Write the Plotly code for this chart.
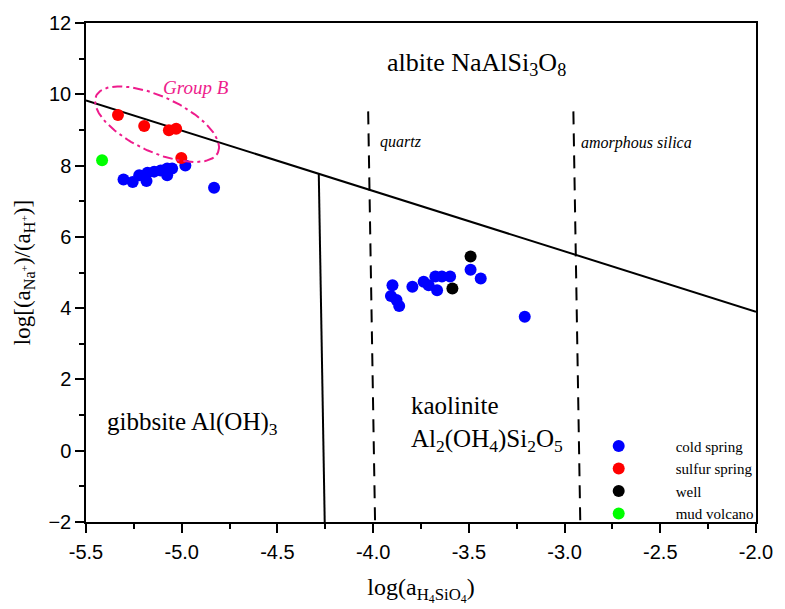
import numpy as np
import plotly.graph_objects as go

# ---- data ----
cold_x = [-5.304, -5.256, -5.222, -5.184, -5.179, -5.144, -5.110, -5.076, -5.076, -5.050, -4.981, -4.831,
          -3.899, -3.907, -3.878, -3.864, -3.795, -3.736, -3.710, -3.675, -3.666, -3.641, -3.598, -3.491, -3.438, -3.208]
cold_y = [7.61, 7.54, 7.73, 7.57, 7.80, 7.83, 7.86, 7.73, 7.92, 7.92, 8.00, 7.38,
          4.64, 4.34, 4.23, 4.06, 4.60, 4.74, 4.64, 4.89, 4.50, 4.89, 4.89, 5.08, 4.83, 3.76]
sulfur_x = [-5.333, -5.196, -5.067, -5.029, -5.002]
sulfur_y = [9.42, 9.11, 8.99, 9.03, 8.21]
well_x = [-3.491, -3.586]
well_y = [5.45, 4.55]
mud_x = [-5.416]
mud_y = [8.15]

albite_line_x = [-5.5, -2.0]
albite_line_y = [9.83, 3.90]
gibbsite_line_x = [-4.284, -4.253]
gibbsite_line_y = [7.77, -2.0]
quartz_x = [-4.026, -3.990]
quartz_y = [9.52, -2.0]
amorph_x = [-2.954, -2.918]
amorph_y = [9.52, -2.0]

X_RANGE = [-5.5, -2.0]
Y_RANGE = [-2.0, 12.0]
x_ticks = [-5.5, -5.0, -4.5, -4.0, -3.5, -3.0, -2.5, -2.0]
x_ticktext = ["-5.5", "-5.0", "-4.5", "-4.0", "-3.5", "-3.0", "-2.5", "-2.0"]

W, H = 785, 609
M = dict(l=86, r=20, t=19, b=87)
pw = W - M["l"] - M["r"]
ph = H - M["t"] - M["b"]
sx = pw / (X_RANGE[1] - X_RANGE[0])
sy = ph / (Y_RANGE[1] - Y_RANGE[0])

fig = go.Figure()

for lx, ly, dash in [(albite_line_x, albite_line_y, "solid"),
                     (gibbsite_line_x, gibbsite_line_y, "solid"),
                     (quartz_x, quartz_y, "13px,9px"),
                     (amorph_x, amorph_y, "13px,9px")]:
    fig.add_trace(go.Scatter(x=lx, y=ly, mode="lines", showlegend=False, hoverinfo="skip",
                             line=dict(color="black", width=2, dash=dash)))

mk = 12
fig.add_trace(go.Scatter(x=cold_x, y=cold_y, mode="markers", name="cold spring",
                         marker=dict(color="#0000FF", size=mk)))
fig.add_trace(go.Scatter(x=sulfur_x, y=sulfur_y, mode="markers", name="sulfur spring",
                         marker=dict(color="#FF0000", size=mk)))
fig.add_trace(go.Scatter(x=well_x, y=well_y, mode="markers", name="well",
                         marker=dict(color="#000000", size=mk)))
fig.add_trace(go.Scatter(x=mud_x, y=mud_y, mode="markers", name="mud volcano",
                         marker=dict(color="#00FF00", size=mk)))

# Group B ellipse (rotated, defined in screen pixels then mapped to data)
cx, cy = -5.129, 9.16
a_px, b_px, ang = 68, 28, np.deg2rad(-24.7)
t = np.linspace(0, 2 * np.pi, 160)
u = a_px * np.cos(t)
v = b_px * np.sin(t)
dx = u * np.cos(ang) - v * np.sin(ang)
dy = u * np.sin(ang) + v * np.cos(ang)
ex = cx + dx / sx
ey = cy + dy / sy
fig.add_trace(go.Scatter(x=ex, y=ey, mode="lines", showlegend=False, hoverinfo="skip",
                         line=dict(color="#EE1C8C", width=2, dash="10px,4px,3px,4px")))

serif = "Liberation Serif, Times New Roman, serif"
ann = [
    dict(x=-3.459, y=10.86, text="albite NaAlSi<sub>3</sub>O<sub>8</sub>", font=dict(size=26), xanchor="center"),
    dict(x=-3.974, y=8.66, text="<i>quartz</i>", font=dict(size=16), xanchor="left"),
    dict(x=-2.923, y=8.63, text="<i>amorphous silica</i>", font=dict(size=16), xanchor="left"),
    dict(x=-5.402, y=0.76, text="gibbsite Al(OH)<sub>3</sub>", font=dict(size=25), xanchor="left"),
    dict(x=-3.814, y=0.76, text="kaolinite<br>Al<sub>2</sub>(OH<sub>4</sub>)Si<sub>2</sub>O<sub>5</sub>",
         font=dict(size=25), xanchor="left", align="left"),
    dict(x=-4.928, y=10.19, text="<i>Group B</i>", font=dict(size=19, color="#EE1C8C"), xanchor="center"),
]
for a in ann:
    f = dict(family=serif, color="black")
    f.update(a.pop("font"))
    fig.add_annotation(showarrow=False, yanchor="middle", font=f, **a)

axis_common = dict(showline=True, linecolor="black", linewidth=1.5, mirror=True,
                   ticks="outside", ticklen=9, tickwidth=1.5, tickcolor="black",
                   showgrid=False, zeroline=False,
                   tickfont=dict(family="Liberation Sans, Arial, sans-serif", size=20, color="black"))

fig.update_layout(
    width=W, height=H, margin=M,
    plot_bgcolor="white", paper_bgcolor="white",
    xaxis=dict(range=X_RANGE, tickvals=x_ticks, ticktext=x_ticktext,
               minor=dict(dtick=0.25, ticks="outside", ticklen=5, tickwidth=1.5, tickcolor="black"),
               ticklabelstandoff=2,
               title=dict(text="log(a<sub>H<sub>4</sub>SiO<sub>4</sub></sub>)",
                          font=dict(family=serif, size=24, color="black"), standoff=16),
               **axis_common),
    yaxis=dict(range=Y_RANGE, dtick=2,
               minor=dict(dtick=1, ticks="outside", ticklen=5, tickwidth=1.5, tickcolor="black"),
               title=dict(text="log[(a<sub>Na<sup>+</sup></sub>)/(a<sub>H<sup>+</sup></sub>)]",
                          font=dict(family=serif, size=23, color="black"), standoff=11),
               **axis_common),
    legend=dict(x=0.710, y=0.185, xanchor="left", yanchor="top", bgcolor="rgba(0,0,0,0)",
                font=dict(family=serif, size=15, color="black"), itemsizing="constant",
                itemwidth=104, tracegroupgap=0),
)

fig.write_html("out.html")
